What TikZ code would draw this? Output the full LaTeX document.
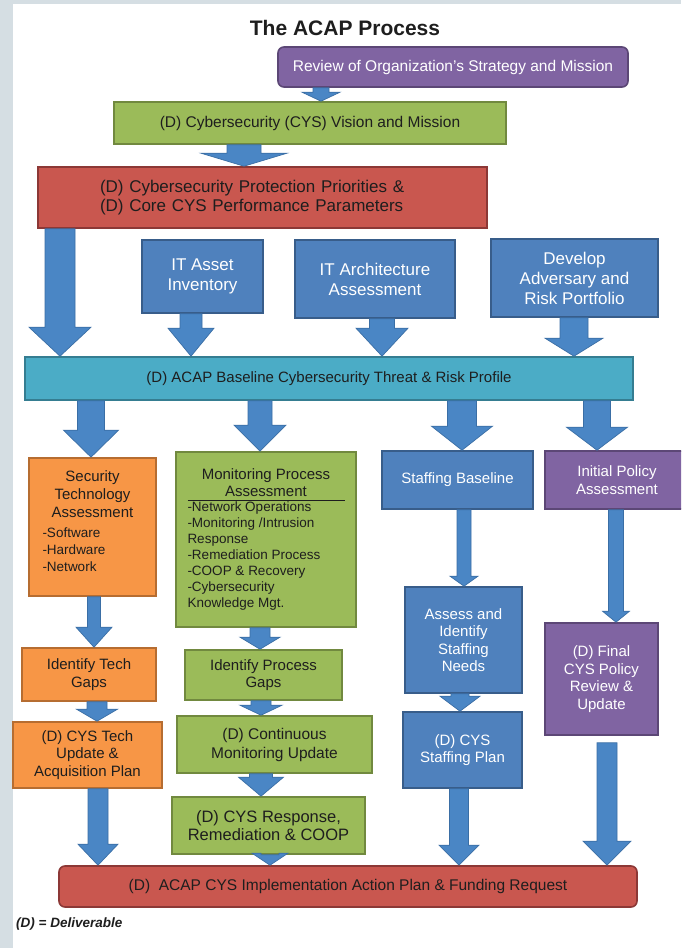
\documentclass[tikz,border=0pt]{standalone}
\usepackage{fontspec}
\setmainfont{Liberation Sans}
\usetikzlibrary{calc}
\definecolor{cPurple}{HTML}{8064A2}\definecolor{cPurpleD}{HTML}{5C4776}
\definecolor{cGreen}{HTML}{9BBB59}\definecolor{cGreenD}{HTML}{71893F}
\definecolor{cRed}{HTML}{C9574F}\definecolor{cRedD}{HTML}{8C3836}
\definecolor{cBlue}{HTML}{4F81BD}\definecolor{cBlueD}{HTML}{385D8A}
\definecolor{cCyan}{HTML}{4BACC6}\definecolor{cCyanD}{HTML}{357D91}
\definecolor{cOrange}{HTML}{F79646}\definecolor{cOrangeD}{HTML}{B66D31}
\definecolor{cArrow}{HTML}{4A86C5}\definecolor{cArrowD}{HTML}{3A6EA5}
\definecolor{cBg}{HTML}{D5DEE3}
\definecolor{cText}{HTML}{1E1E1E}
\newcommand\fs[2]{\fontsize{#1}{#2}\selectfont}
% #1 from node, #2 to node, #3 x, #4 shaft half width, #5 head half width, #6 head length, #7 start offset
\newcommand\blockarrow[7]{%
  \path[arrowstyle] let \p1=(#1.south), \p2=(#2.north) in
    (#3pt-#4pt,\y1-#7pt) -- (#3pt+#4pt,\y1-#7pt) -- (#3pt+#4pt,\y2+#6pt) --
    (#3pt+#5pt,\y2+#6pt) -- (#3pt,\y2) -- (#3pt-#5pt,\y2+#6pt) --
    (#3pt-#4pt,\y2+#6pt) -- cycle;}
\tikzset{
  boxbase/.style={draw, line width=1.6pt, inner sep=2pt, align=center},
  pbox/.style={boxbase, fill=cPurple, draw=cPurpleD, text=white},
  gbox/.style={boxbase, fill=cGreen, draw=cGreenD, text=cText},
  rbox/.style={boxbase, fill=cRed, draw=cRedD, text=cText},
  bbox/.style={boxbase, fill=cBlue, draw=cBlueD, text=white},
  cbox/.style={boxbase, fill=cCyan, draw=cCyanD, text=cText},
  obox/.style={boxbase, fill=cOrange, draw=cOrangeD, text=cText},
  arrowstyle/.style={fill=cArrow, draw=cArrowD, line width=0.7pt},
}
\begin{document}
\begin{tikzpicture}[x=1pt,y=-1pt]
\useasboundingbox (0,0) rectangle (681,948);
\clip (0,0) rectangle (681,948);
\fill[white] (0,0) rectangle (681,948);
\fill[cBg] (0,0) rectangle (13,948);
\fill[cBg] (0,0) rectangle (681,4);

\node[font=\bfseries\fs{21}{24}, text=cText] (title) at (345,28) {The ACAP Process};

\node[pbox, rounded corners=6pt, minimum width=350pt, minimum height=40pt, font=\fs{15.5}{18}] (review) at (453,67) {Review of Organization’s Strategy and Mission};
\node[gbox, minimum width=392pt, minimum height=42pt, font=\fs{15.5}{18}] (vision) at (310,123) {(D) Cybersecurity (CYS) Vision and Mission};
\node[rbox, minimum width=449pt, minimum height=61pt, text width=325pt, align=left, font=\fs{17}{18.5}] (prio) at (262.5,197.5) {(D) Cybersecurity Protection Priorities \&\\(D) Core CYS Performance Parameters};

\node[bbox, minimum width=121pt, minimum height=73pt, font=\fs{17}{20}] (itasset) at (202.5,276.5) {IT Asset\\Inventory};
\node[bbox, minimum width=160pt, minimum height=78pt, font=\fs{17}{20}] (itarch) at (375,279) {IT Architecture\\Assessment};
\node[bbox, minimum width=167pt, minimum height=78pt, font=\fs{17}{20}] (develop) at (574.5,278) {Develop\\Adversary and\\Risk Portfolio};

\node[cbox, minimum width=608pt, minimum height=43pt, font=\fs{15}{18}] (baseline) at (329,378.5) {(D) ACAP Baseline Cybersecurity Threat \& Risk Profile};

\node[obox, minimum width=127pt, minimum height=138pt, inner sep=0pt] (sectech) at (92.5,527) {\parbox{100pt}{\centering\fs{15}{18}Security\\Technology\\Assessment\par\vspace{3pt}\raggedright\fs{13.5}{17}-Software\\-Hardware\\-Network\par\vspace{12pt}}};
\node[gbox, minimum width=180pt, minimum height=175pt, inner sep=0pt] (monitor) at (266,539.5) {\parbox{157pt}{\centering\fs{15}{17}Monitoring Process\\Assessment\par\vspace{3.5pt}\hrule height 1.2pt\vspace{0.5pt}\raggedright\fs{13.5}{16}-Network Operations\\-Monitoring /Intrusion\\Response\\-Remediation Process\\-COOP \& Recovery\\-Cybersecurity\\Knowledge Mgt.\par}};
\node[bbox, minimum width=151pt, minimum height=58pt, font=\fs{15}{17.5}] (staffbase) at (457.5,480) {Staffing Baseline};
\node[pbox, minimum width=144pt, minimum height=58pt, font=\fs{15}{17.5}] (initpol) at (617,480) {Initial Policy\\Assessment};

\node[obox, minimum width=134pt, minimum height=53pt, font=\fs{15}{17.5}] (techgaps) at (89,674.5) {Identify Tech\\Gaps};
\node[gbox, minimum width=157pt, minimum height=50pt, font=\fs{15}{17.5}] (procgaps) at (263.5,675) {Identify Process\\Gaps};
\node[bbox, minimum width=117pt, minimum height=106pt, font=\fs{15}{17.5}] (assess) at (463.5,640) {Assess and\\Identify\\Staffing\\Needs};
\node[pbox, minimum width=113pt, minimum height=112pt, font=\fs{15}{17.5}] (finalpol) at (601.5,679) {(D) Final\\CYS Policy\\Review \&\\Update};

\node[obox, minimum width=149pt, minimum height=66pt, font=\fs{15}{17.5}] (techplan) at (87.5,755) {(D) CYS Tech\\Update \&\\Acquisition Plan};
\node[gbox, minimum width=195pt, minimum height=57pt, font=\fs{15.5}{19}] (contmon) at (274.5,744.5) {(D) Continuous\\Monitoring Update};
\node[bbox, minimum width=119pt, minimum height=76pt, font=\fs{15}{17.5}] (staffplan) at (462.5,750) {(D) CYS\\Staffing Plan};
\node[gbox, minimum width=193pt, minimum height=57pt, font=\fs{16.5}{18.5}] (response) at (268.5,825.5) {(D) CYS Response,\\Remediation \& COOP};

\node[rbox, rounded corners=6pt, minimum width=578pt, minimum height=41pt, font=\fs{15.5}{18}] (action) at (348,886.5) {(D)\ \ ACAP CYS Implementation Action Plan \& Funding Request};

\node[anchor=west, font=\bfseries\itshape\fs{13.5}{16}, text=cText, inner sep=0pt] (legend) at (16,924) {(D) = Deliverable};

\blockarrow{review}{vision}{321}{8}{19}{9}{0}
\blockarrow{vision}{prio}{244}{17}{43}{13}{0}
\blockarrow{prio}{baseline}{60}{15}{31}{29}{0}
\blockarrow{itasset}{baseline}{191}{11}{23}{28}{0}
\blockarrow{itarch}{baseline}{382}{12.5}{26}{28}{0}
\blockarrow{develop}{baseline}{574}{14}{29}{18}{0}
\blockarrow{baseline}{sectech}{91}{13.5}{27.5}{27}{0}
\blockarrow{baseline}{monitor}{260}{12}{26}{26}{0}
\blockarrow{baseline}{staffbase}{462}{14.5}{30.5}{24}{0}
\blockarrow{baseline}{initpol}{597}{13.5}{30.5}{23}{0}
\blockarrow{sectech}{techgaps}{94}{6.5}{18}{20}{0}
\blockarrow{monitor}{procgaps}{260}{10}{20}{12}{0}
\blockarrow{staffbase}{assess}{464}{7}{14}{10}{0}
\blockarrow{initpol}{finalpol}{616}{7.5}{13.5}{11}{0}
\blockarrow{techgaps}{techplan}{97}{10}{20.5}{12}{0}
\blockarrow{procgaps}{contmon}{261}{10}{21}{10}{0}
\blockarrow{contmon}{response}{261}{11.5}{22.5}{19}{0}
\blockarrow{response}{action}{270}{9}{18}{12}{0}
\blockarrow{techplan}{action}{98}{10}{20}{21}{0}
\blockarrow{assess}{staffplan}{460}{9}{20}{15}{0}
\blockarrow{staffplan}{action}{459}{9.5}{20}{20}{0}
\blockarrow{finalpol}{action}{607}{10}{24}{24}{7}
\end{tikzpicture}
\end{document}
